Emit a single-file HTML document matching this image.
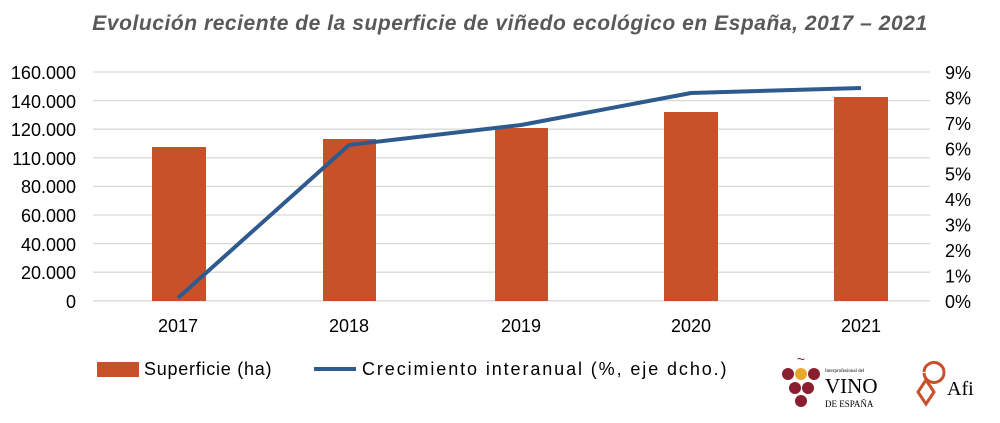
<!DOCTYPE html><html><head><style>body{margin:0;background:#fff;width:1000px;height:418px;overflow:hidden}</style></head><body>
<svg width="1000" height="418" xmlns="http://www.w3.org/2000/svg" font-family="Liberation Sans, sans-serif">
<text x="510" y="30" text-anchor="middle" font-size="21" font-style="italic" font-weight="bold" fill="#595959" letter-spacing="0.55">Evolución reciente de la superficie de viñedo ecológico en España, 2017 – 2021</text>
<g stroke="#d9d9d9" stroke-width="1.3">
<line x1="93" x2="930" y1="72" y2="72"/><line x1="93" x2="930" y1="100.6" y2="100.6"/><line x1="93" x2="930" y1="129.2" y2="129.2"/><line x1="93" x2="930" y1="157.8" y2="157.8"/><line x1="93" x2="930" y1="186.4" y2="186.4"/><line x1="93" x2="930" y1="215" y2="215"/><line x1="93" x2="930" y1="243.6" y2="243.6"/><line x1="93" x2="930" y1="272.2" y2="272.2"/><line x1="93" x2="930" y1="300.8" y2="300.8"/></g>
<g font-size="18" fill="#000" text-anchor="end">
<text x="76" y="79">160.000</text><text x="76" y="108">140.000</text><text x="76" y="136">120.000</text><text x="76" y="165">110.000</text><text x="76" y="193">80.000</text><text x="76" y="222">60.000</text><text x="76" y="251">40.000</text><text x="76" y="279">20.000</text><text x="76" y="308">0</text></g>
<g font-size="18" fill="#000" text-anchor="start">
<text x="945" y="79">9%</text><text x="945" y="104.4">8%</text><text x="945" y="129.8">7%</text><text x="945" y="155.3">6%</text><text x="945" y="180.7">5%</text><text x="945" y="206.1">4%</text><text x="945" y="231.5">3%</text><text x="945" y="257">2%</text><text x="945" y="282.4">1%</text><text x="945" y="308">0%</text></g>
<g fill="#c9512a">
<rect x="152" y="147" width="54" height="154"/><rect x="323" y="139" width="53" height="162"/><rect x="495" y="128" width="53" height="173"/><rect x="664" y="112" width="54" height="189"/><rect x="834" y="97" width="54" height="204"/></g>
<polyline points="178,298 349,145 521,125 691,93 861,88" fill="none" stroke="#2e5a8e" stroke-width="4" stroke-linejoin="round"/>
<g font-size="18" text-anchor="middle"><text x="178" y="332">2017</text><text x="349" y="332">2018</text><text x="521" y="332">2019</text><text x="691" y="332">2020</text><text x="861" y="332">2021</text></g>
<rect x="97" y="362" width="42" height="15" fill="#c9512a"/>
<text x="144" y="375" font-size="18" letter-spacing="0.75">Superficie (ha)</text>
<line x1="314" x2="356" y1="369" y2="369" stroke="#2e5a8e" stroke-width="4"/>
<text x="362" y="375" font-size="18" letter-spacing="1.9">Crecimiento interanual (%, eje dcho.)</text>
<g fill="#8b1e2e"><circle cx="788" cy="374" r="6"/><circle cx="814" cy="374" r="6"/><circle cx="795" cy="388" r="6"/><circle cx="808" cy="388" r="6"/><circle cx="801" cy="401" r="6"/></g>
<circle cx="801" cy="374" r="6" fill="#e6a92a"/>
<text x="801" y="364" font-size="14" text-anchor="middle" fill="#8b1e2e">~</text>
<text x="825" y="393" font-size="21" font-family="Liberation Serif, serif">VINO</text>
<text x="825" y="407" font-size="9" font-family="Liberation Serif, serif">DE ESPAÑA</text>
<text x="825" y="372" font-size="5" font-family="Liberation Serif, serif">Interprofesional del</text>
<g fill="none" stroke="#c9512a" stroke-width="3"><path d="M924 372 a10 10 0 1 1 0 1 M918 392 l8 -12 l8 12 l-8 12 z"/></g>
<text x="947" y="395" font-size="20" font-family="Liberation Serif, serif">Afi</text>
</svg></body></html>
